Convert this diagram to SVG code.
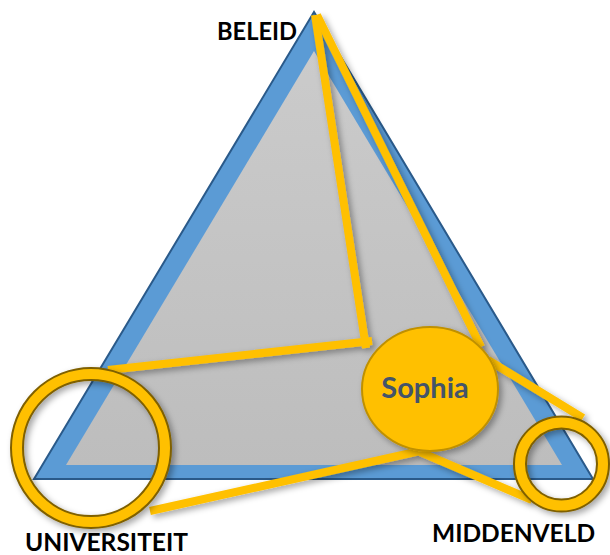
<svg xmlns="http://www.w3.org/2000/svg" width="610" height="555" viewBox="0 0 610 555">
<style>
.lbl{font-family:Lato,"Liberation Sans",sans-serif;font-weight:bold;font-size:24px;fill:#000}
.ln{stroke:#FFC000;stroke-width:8;fill:none;stroke-linecap:butt}
.ring{fill:#FFC000;fill-rule:evenodd;stroke:#7F6000;stroke-width:2}
</style>
<defs>
<filter id="sh" x="-20%" y="-20%" width="140%" height="140%">
<feDropShadow dx="3" dy="3" stdDeviation="3" flood-color="#000" flood-opacity="0.35"/>
</filter>
<linearGradient id="gr" x1="0" y1="0" x2="0" y2="1">
<stop offset="0" stop-color="#CBCBCB"/>
<stop offset="1" stop-color="#BDBDBD"/>
</linearGradient>
</defs>
<rect width="610" height="555" fill="#fff"/>
<g id="triangle">
<polygon points="314,12 34,479 593,479" fill="#5B9BD5" stroke="#2A5A8A" stroke-width="2" stroke-linejoin="miter"/>
<polygon points="314,51 66,465 562,465" fill="url(#gr)"/>
</g>
<g id="connectors" filter="url(#sh)">
<line class="ln" x1="315" y1="15" x2="366" y2="348"/>
<line class="ln" x1="317" y1="15" x2="481" y2="347"/>
<line class="ln" x1="108" y1="370" x2="372" y2="341"/>
<line class="ln" x1="150" y1="511" x2="420" y2="451"/>
<line class="ln" x1="420" y1="452" x2="532" y2="500"/>
<line class="ln" x1="488" y1="360" x2="583" y2="418"/>
</g>
<g id="beleid">
<text class="lbl" x="217" y="40" textLength="80" lengthAdjust="spacingAndGlyphs">BELEID</text>
</g>
<g id="universiteit">
<path class="ring" filter="url(#sh)" d="M11,448 a80,80 0 1,0 160,0 a80,80 0 1,0 -160,0 Z M23,448 a68,68 0 1,0 136,0 a68,68 0 1,0 -136,0 Z"/>
<text class="lbl" x="25" y="551" textLength="163" lengthAdjust="spacingAndGlyphs">UNIVERSITEIT</text>
</g>
<g id="middenveld">
<path class="ring" filter="url(#sh)" d="M514,464 a47.5,47.5 0 1,0 95,0 a47.5,47.5 0 1,0 -95,0 Z M526,464 a35.5,35.5 0 1,0 71,0 a35.5,35.5 0 1,0 -71,0 Z"/>
<text class="lbl" x="432" y="542" textLength="163" lengthAdjust="spacingAndGlyphs">MIDDENVELD</text>
</g>
<g id="sophia">
<ellipse cx="430" cy="389" rx="68" ry="62" fill="#FFC000" stroke="#BF9000" stroke-width="2" filter="url(#sh)"/>
<text x="425" y="398" text-anchor="middle" font-family="Lato,'Liberation Sans',sans-serif" font-weight="bold" font-size="29" fill="#44546A">Sophia</text>
</g>
</svg>
